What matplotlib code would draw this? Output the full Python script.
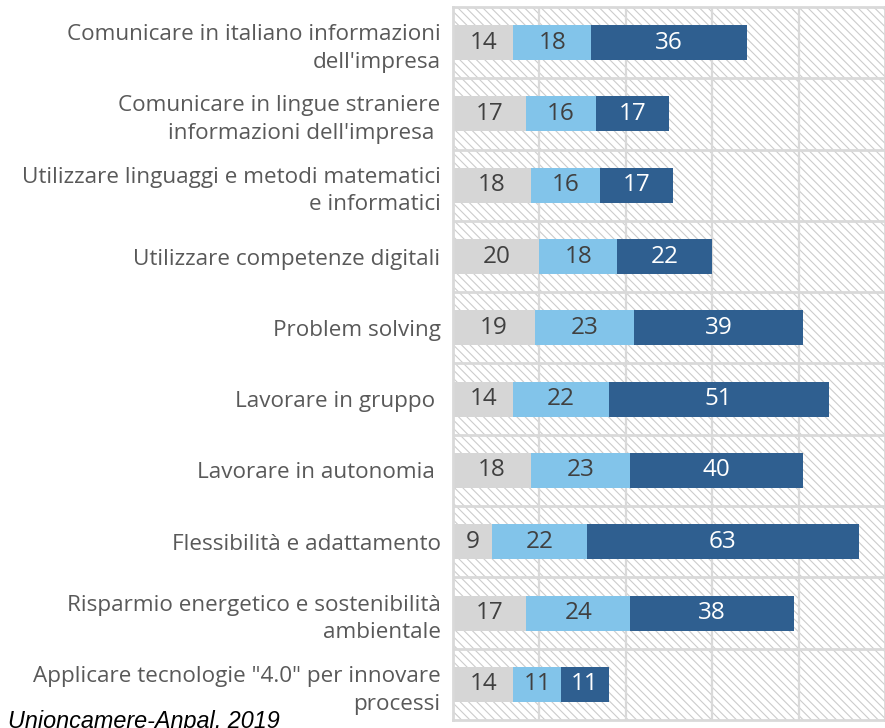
import matplotlib
matplotlib.use("Agg")
import matplotlib.pyplot as plt
from matplotlib.patches import Rectangle
import numpy as np

categories = [
    "Comunicare in italiano informazioni\ndell'impresa",
    "Comunicare in lingue straniere\ninformazioni dell'impresa ",
    "Utilizzare linguaggi e metodi matematici\ne informatici",
    "Utilizzare competenze digitali",
    "Problem solving",
    "Lavorare in gruppo ",
    "Lavorare in autonomia ",
    "Flessibilità e adattamento",
    "Risparmio energetico e sostenibilità\nambientale",
    "Applicare tecnologie \"4.0\" per innovare\nprocessi",
]
low = [14, 17, 18, 20, 19, 14, 18, 9, 17, 14]
medium = [18, 16, 16, 18, 23, 22, 23, 22, 24, 11]
high = [36, 17, 17, 22, 39, 51, 40, 63, 38, 11]
xticks = [0, 20, 40, 60, 80, 100]

colors = ["#D6D6D6", "#82C4EA", "#2F5F90"]
text_colors = ["#404040", "#404040", "#FFFFFF"]
grid_c = "#D9D9D9"

plt.rcParams['hatch.linewidth'] = 0.8
plt.rcParams['hatch.color'] = "#CCCCCC"

fig = plt.figure(figsize=(8.85, 7.28), dpi=100)
ax = fig.add_axes([453/885, 1 - 720/728, 432/885, 713/728])
ax.set_xlim(0, 100)
n = len(categories)
ax.set_ylim(n - 0.5, -0.5)

# hatched background
bg = Rectangle((0, 0), 1, 1, transform=ax.transAxes, facecolor="white",
               edgecolor="#CCCCCC", hatch="\\\\\\\\", linewidth=0, zorder=0)
ax.add_patch(bg)

for x in xticks[1:-1]:
    ax.axvline(x, color=grid_c, lw=1.6, zorder=1)
for i in range(n - 1):
    ax.axhline(i + 0.5, color=grid_c, lw=2.0, zorder=1)

y = np.arange(n)
left = np.zeros(n)
for vals, c, tc in zip([low, medium, high], colors, text_colors):
    vals = np.array(vals, dtype=float)
    ax.barh(y, vals, left=left, height=0.49, color=c, zorder=2)
    for yi, l, v in zip(y, left, vals):
        ax.text(l + v / 2, yi, f"{int(v)}", ha="center", va="center",
                color=tc, fontsize=17.5, family="Open Sans", zorder=3)
    left = left + vals

ax.set_yticks(y)
ax.set_yticklabels(categories, fontsize=16.2, family="Open Sans", color="#595959",
                   linespacing=1.42)
ax.tick_params(axis="y", length=0, pad=9)
ax.set_xticks([])
for s in ["left", "top", "bottom", "right"]:
    ax.spines[s].set_color(grid_c)
    ax.spines[s].set_linewidth(2.0)

fig.text(8/885, 1 - 728/728, "Unioncamere-Anpal, 2019",
         fontsize=16.8, style="italic", family="Liberation Sans", color="black",
         ha="left", va="baseline")

fig.savefig("out.png", dpi=100)
